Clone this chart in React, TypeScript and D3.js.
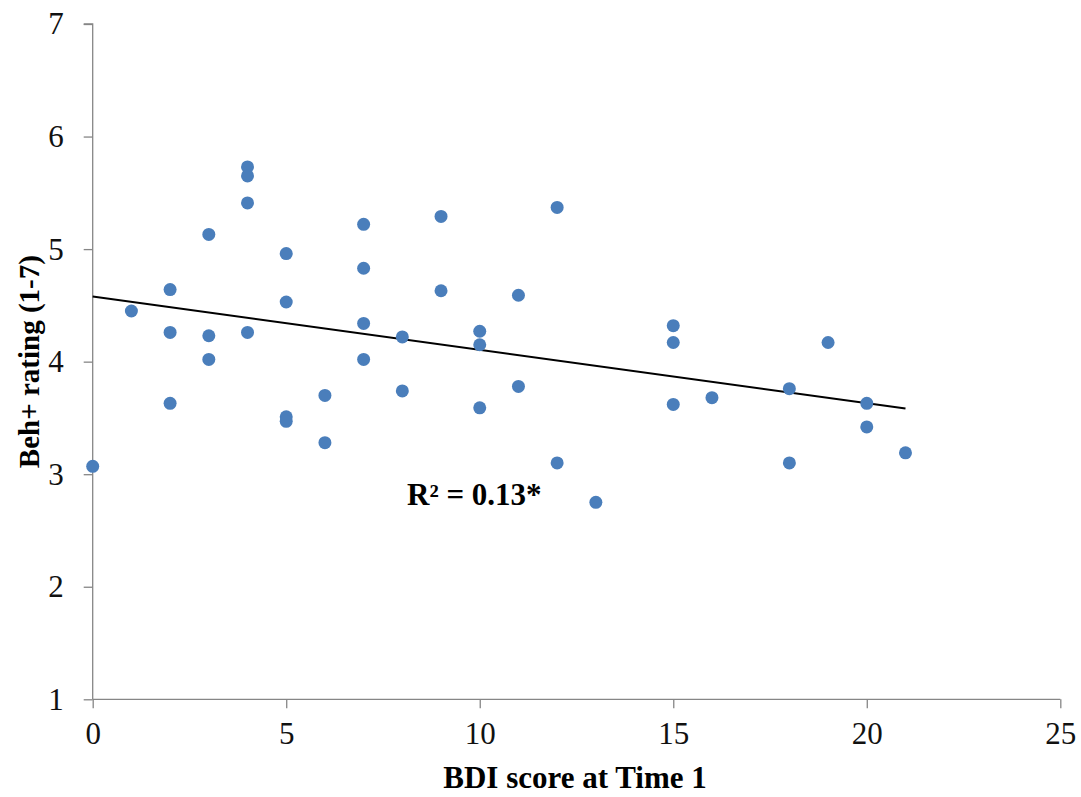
import { useEffect, useRef } from 'react';
import * as d3 from 'd3';

// BDI score at Time 1 (x) vs Beh+ rating (y)
const bdiScores = [
  0, 1, 2, 2, 2, 3, 3, 3, 4, 4, 4, 4, 5, 5, 5, 5, 6, 6, 7, 7, 7, 7,
  8, 8, 9, 9, 10, 10, 10, 11, 11, 12, 12, 13, 15, 15, 15, 16, 18, 18, 19, 20, 20, 21,
];
const behRatings = [
  3.07, 4.45, 4.64, 4.26, 3.63, 5.13, 4.23, 4.02, 5.73, 5.65, 5.41, 4.26, 4.96, 4.53, 3.51, 3.47,
  3.70, 3.28, 5.22, 4.83, 4.34, 4.02, 4.22, 3.74, 5.29, 4.63, 4.27, 4.15, 3.59, 4.59, 3.78,
  5.37, 3.10, 2.75, 4.32, 4.17, 3.62, 3.68, 3.76, 3.10, 4.17, 3.63, 3.42, 3.19,
];
const xTicks = [0, 5, 10, 15, 20, 25];
const yTicks = [1, 2, 3, 4, 5, 6, 7];

const W = 1081;
const H = 797;
const serif = '"Liberation Serif", "Times New Roman", serif';

export default function App() {
  const ref = useRef<SVGSVGElement | null>(null);

  useEffect(() => {
    if (!ref.current) return;
    const svg = d3.select(ref.current);
    svg.selectAll('*').remove();

    const x = d3.scaleLinear().domain([0, 25]).range([92.7, 1060.3]);
    const y = d3.scaleLinear().domain([1, 7]).range([699.3, 24]);

    const points = bdiScores.map((b, i) => ({ x: b, y: behRatings[i] }));

    // Y axis
    const yAxis = svg.append('g')
      .attr('transform', `translate(${x(0)},0)`)
      .call(d3.axisLeft(y).tickValues(yTicks).tickSize(9).tickPadding(20).tickFormat(d3.format('d')));
    // X axis
    const xAxis = svg.append('g')
      .attr('transform', `translate(0,${y(1)})`)
      .call(d3.axisBottom(x).tickValues(xTicks).tickSize(9).tickPadding(14).tickFormat(d3.format('d')));

    [yAxis, xAxis].forEach(g => {
      g.select('.domain').attr('stroke', '#868686').attr('stroke-width', 1.3);
      g.selectAll('.tick line').attr('stroke', '#868686').attr('stroke-width', 1.3);
      g.selectAll('.tick text')
        .attr('fill', '#111')
        .style('font-family', serif)
        .style('font-size', '31px');
    });
    // remove the outer tick stubs D3 draws on the domain path
    yAxis.select('.domain').attr('d', `M-9,${y(7)}H0V${y(1)}`);
    xAxis.select('.domain').attr('d', `M${x(0)},0H${x(25)}`);

    // Trend line (least squares)
    const mx = d3.mean(points, d => d.x) as number;
    const my = d3.mean(points, d => d.y) as number;
    const sxy = d3.sum(points, d => (d.x - mx) * (d.y - my));
    const sxx = d3.sum(points, d => (d.x - mx) ** 2);
    const slope = sxy / sxx;
    const icept = my - slope * mx;
    const xMax = d3.max(bdiScores) as number;

    svg.append('path')
      .datum([0, xMax])
      .attr('fill', 'none')
      .attr('stroke', '#000')
      .attr('stroke-width', 2)
      .attr('d', d3.line<number>().x(d => x(d)).y(d => y(icept + slope * d)));

    // Dots
    svg.selectAll('.dot')
      .data(points)
      .enter()
      .append('circle')
      .attr('class', 'dot')
      .attr('cx', d => x(d.x))
      .attr('cy', d => y(d.y))
      .attr('r', 6.5)
      .attr('fill', '#4a7ebb');

    // R² annotation
    svg.append('text')
      .attr('x', 407)
      .attr('y', 505)
      .style('font-family', serif)
      .style('font-weight', 'bold')
      .style('font-size', '31px')
      .text('R² = 0.13*');

    // Axis titles
    svg.append('text')
      .attr('x', 575)
      .attr('y', 788)
      .attr('text-anchor', 'middle')
      .style('font-family', serif)
      .style('font-weight', 'bold')
      .style('font-size', '31px')
      .text('BDI score at Time 1');

    svg.append('text')
      .attr('transform', `translate(39,${y(4)}) rotate(-90)`)
      .attr('text-anchor', 'middle')
      .style('font-family', serif)
      .style('font-weight', 'bold')
      .style('font-size', '29px')
      .text('Beh+ rating (1-7)');
  }, []);

  return (
    <svg
      ref={ref}
      width={W}
      height={H}
      style={{ position: 'absolute', left: 0, top: 0, background: '#fff' }}
    />
  );
}
